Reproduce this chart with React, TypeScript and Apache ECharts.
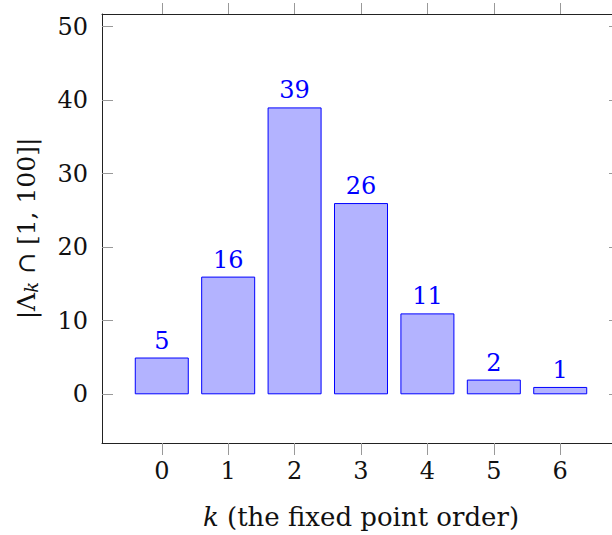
import React, { useEffect, useRef } from "react";
import * as echarts from "echarts";

const orders = [0, 1, 2, 3, 4, 5, 6];
const counts = [5, 16, 39, 26, 11, 2, 1];
const yTicks = [0, 10, 20, 30, 40, 50];

const FONT = "DejaVu Serif";

export default function App() {
  const ref = useRef<HTMLDivElement>(null);
  useEffect(() => {
    if (!ref.current) return;
    const chart = echarts.init(ref.current, undefined, { renderer: "svg" });
    const xMin = -0.9, xMax = 6.9, yMin = -6.62, yMax = 51.7;
    const lineStyle = { color: "#222", width: 1 };
    const tickStyle = { color: "#999", width: 1 };
    chart.setOption({
      animation: false,
      backgroundColor: "#fff",
      textStyle: { fontFamily: FONT },
      grid: { left: 102, top: 14, width: 518, height: 430 },
      xAxis: [
        {
          type: "value", position: "bottom", min: xMin, max: xMax,
          splitLine: { show: false },
          axisLine: { show: true, onZero: false, lineStyle },
          axisTick: { show: true, inside: false, length: 12, customValues: orders, lineStyle: tickStyle },
          axisLabel: { customValues: orders, fontFamily: FONT, fontSize: 24, color: "#111", margin: 16 },
          name: "{i|k} (the fixed point order)",
          nameLocation: "middle",
          nameGap: 61,
          nameTextStyle: {
            fontFamily: FONT, fontSize: 26, color: "#111",
            rich: { i: { fontFamily: FONT, fontSize: 26, fontStyle: "italic", color: "#111" } },
          },
        },
        {
          type: "value", position: "top", min: xMin, max: xMax,
          splitLine: { show: false },
          axisLine: { show: true, onZero: false, lineStyle },
          axisTick: { show: true, inside: false, length: 11, customValues: orders, lineStyle: tickStyle },
          axisLabel: { show: false },
        },
      ],
      yAxis: [
        {
          type: "value", position: "left", min: yMin, max: yMax,
          splitLine: { show: false },
          axisLine: { show: true, onZero: false, lineStyle },
          axisTick: { show: true, inside: true, length: 11, customValues: yTicks, lineStyle: tickStyle },
          axisLabel: { customValues: yTicks, fontFamily: FONT, fontSize: 24, color: "#111", margin: 14 },
          name: "|Λ{s|k} ∩ [1, 100]|",
          nameLocation: "middle",
          nameGap: 62,
          nameRotate: 90,
          nameTextStyle: {
            fontFamily: FONT, fontSize: 25, color: "#111",
            rich: { s: { fontFamily: FONT, fontSize: 18, fontStyle: "italic", color: "#111", padding: [10, 0, 0, 0] } },
          },
        },
        {
          type: "value", position: "right", min: yMin, max: yMax,
          splitLine: { show: false },
          axisLine: { show: true, onZero: false, lineStyle },
          axisTick: { show: true, inside: true, length: 11, customValues: yTicks, lineStyle: tickStyle },
          axisLabel: { show: false },
        },
      ],
      series: [
        {
          type: "bar",
          xAxisIndex: 0,
          yAxisIndex: 0,
          data: orders.map((o, i) => [o, counts[i]]),
          barWidth: 54,
          itemStyle: { color: "#b3b3ff", borderColor: "#0000ff", borderWidth: 1 },
          label: {
            show: true, position: "top", distance: 5,
            fontFamily: FONT, fontSize: 24, color: "#0000ff",
          },
        },
      ],
    });
    return () => chart.dispose();
  }, []);
  return (
    <div style={{ position: "fixed", left: 0, top: 0, width: 612, height: 535, overflow: "hidden", background: "#fff" }}>
      <div ref={ref} style={{ width: 640, height: 535 }} />
    </div>
  );
}
